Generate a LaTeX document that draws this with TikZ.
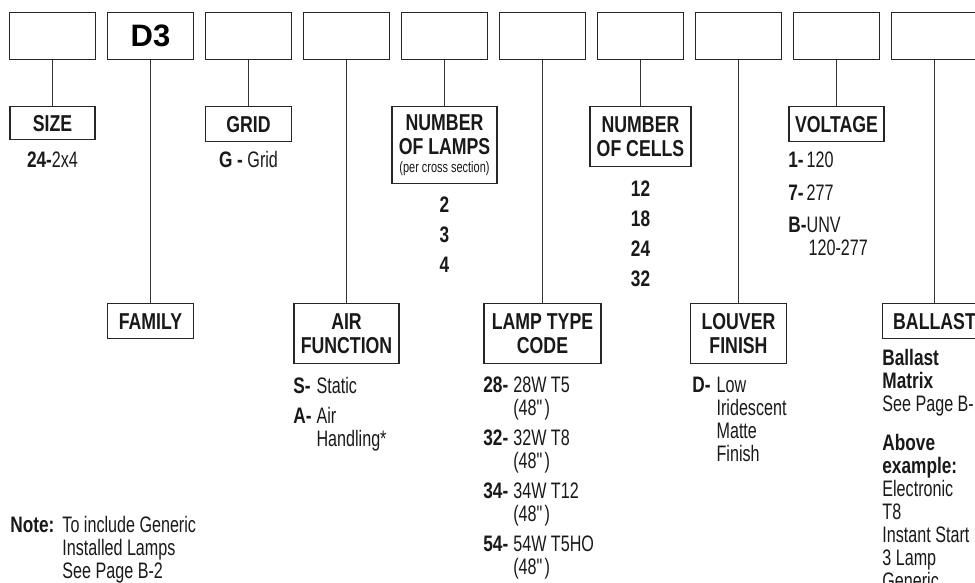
\documentclass[tikz,border=0pt]{standalone}
\usepackage{fontspec}
\setmainfont{Liberation Sans}[UprightFeatures={FakeStretch=0.72},BoldFeatures={FakeStretch=0.77}]
\newfontfamily\dfont{Liberation Sans}
\newcommand{\inch}{(48\textquotedbl)}

\begin{document}
\begin{tikzpicture}[x=0.5pt, y=-0.5pt,
          slot/.style={draw=black!85, line width=0.7pt, minimum width=43pt,
                       minimum height=23.5pt, inner sep=0pt, anchor=north},
          hd/.style={draw=black!85, line width=0.7pt, inner sep=0pt, anchor=north,
                     align=center, text=black!90,
                     font=\fontsize{11.5}{12}\selectfont\bfseries},
          lst/.style={inner sep=0pt, text=black!90,
                      font=\fontsize{11.2}{11.5}\selectfont},
          ln/.style={draw=black!80, line width=0.5pt}]
        \useasboundingbox (0,0) rectangle (975,583);
        \clip (0,0) rectangle (975,583);
        % code slots
        \foreach \i in {1,...,10}
          \node[slot] (b\i) at ({52.5+98*(\i-1)},12)
            {\ifnum\i=2 \dfont\bfseries\fontsize{15.5}{16}\selectfont D3\fi};
        % upper row
        \node[hd, minimum width=42.5pt, minimum height=16.5pt] (size) at (52.5,106) {SIZE};
        \node[hd, minimum width=43pt, minimum height=17.5pt] (grid) at (248.5,106) {GRID};
        \node[hd, minimum width=52.5pt, minimum height=38.5pt] (lamps) at (444.5,106)
          {NUMBER\\OF LAMPS\\[-3pt]{\mdseries\fontsize{7.6}{8}\selectfont (per cross section)}};
        \node[hd, minimum width=50.5pt, minimum height=30pt] (cells) at (640.5,106) {NUMBER\\OF CELLS};
        \node[hd, minimum width=47.5pt, minimum height=17.5pt] (voltage) at (836.5,106) {VOLTAGE};
        % lower row
        \node[hd, minimum width=43pt, minimum height=17.5pt] (family) at (150.5,303) {FAMILY};
        \node[hd, minimum width=52.5pt, minimum height=30pt] (airfn) at (346.5,303) {AIR\\FUNCTION};
        \node[hd, minimum width=58.5pt, minimum height=30pt] (lamptype) at (542.5,303) {LAMP TYPE\\CODE};
        \node[hd, minimum width=48pt, minimum height=30pt] (louver) at (738.5,303) {LOUVER\\FINISH};
        \node[hd, minimum width=52pt, minimum height=17.5pt] (ballast) at (934.5,303) {BALLAST};
        \foreach \a/\b in {b1/size, b2/family, b3/grid, b4/airfn, b5/lamps,
                           b6/lamptype, b7/cells, b8/louver, b9/voltage, b10/ballast}
          \draw[ln] (\a.south) -- (\b.north);
        % options
        \node[lst, anchor=base] (sizeopt) at (52.5,168) {\textbf{24-}2x4};
        \node[lst, anchor=base] (gridopt) at (248.5,168) {\textbf{G -} Grid};
        \node[lst, anchor=base] (lampsopt) at (444.5,213)
          {\bfseries\begin{tabular}[t]{@{}c@{}}2\\[3.5pt]3\\[3.5pt]4\end{tabular}};
        \node[lst, anchor=base] (cellsopt) at (640.5,197)
          {\bfseries\begin{tabular}[t]{@{}c@{}}12\\[3.5pt]18\\[3.5pt]24\\[3.5pt]32\end{tabular}};
        \node[lst, anchor=base west] (voltopt) at (788,168)
          {\begin{tabular}[t]{@{}l@{}l@{}}\textbf{1-}&120\\[5pt]\textbf{7-}&277\\[4.5pt]
           \textbf{B-}&UNV\\&\hspace{1pt}120-277\end{tabular}};
        \node[lst, anchor=base west] (airopt) at (293,393)
          {\begin{tabular}[t]{@{}l@{\hspace{2.5pt}}l@{}}\textbf{S-}&Static\\[3.5pt]
           \textbf{A-}&Air\\&Handling*\end{tabular}};
        \node[lst, anchor=base west] (lampopt) at (483,392)
          {\begin{tabular}[t]{@{}l@{\hspace{2.5pt}}l@{}}\textbf{28-}&28W T5\\&\inch\\[3.5pt]
           \textbf{32-}&32W T8\\&\inch\\[3.5pt]\textbf{34-}&34W T12\\&\inch\\[3.5pt]
           \textbf{54-}&54W T5HO\\&\inch\end{tabular}};
        \node[lst, anchor=base west] (louveropt) at (692,392)
          {\begin{tabular}[t]{@{}l@{\hspace{3pt}}l@{}}\textbf{D-}&Low\\&Iridescent\\&Matte\\&Finish\end{tabular}};
        \node[lst, anchor=base west] (ballastopt) at (882,365)
          {\begin{tabular}[t]{@{}l@{}}\textbf{Ballast}\\\textbf{Matrix}\\See Page B-1\\[8pt]
           \textbf{Above}\\\textbf{example:}\\Electronic\\T8\\Instant Start\\3 Lamp\\Generic\end{tabular}};
        \node[lst, anchor=base west] (note) at (10,532)
          {\begin{tabular}[t]{@{}l@{\hspace{4pt}}l@{}}\textbf{Note:}&To include Generic\\
           &Installed Lamps\\&See Page B-2\end{tabular}};
      \end{tikzpicture}
\end{document}
